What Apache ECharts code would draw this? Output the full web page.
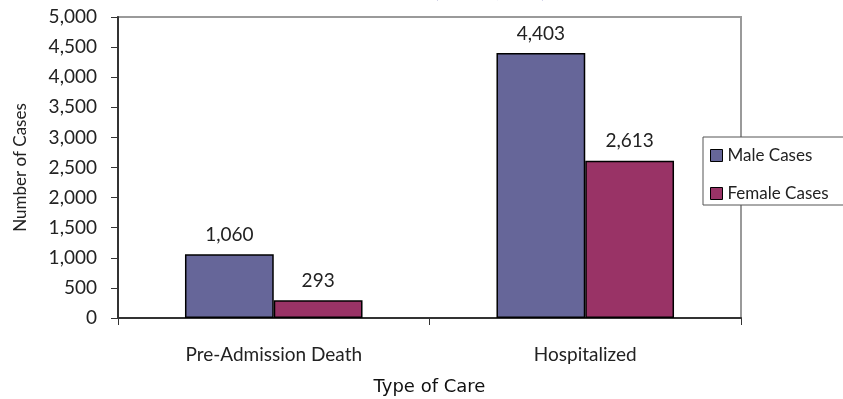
<!DOCTYPE html>
<html>
<head>
<meta charset="utf-8">
<style>
  html, body { margin: 0; padding: 0; background: #fff; overflow: hidden; }
  #chart { width: 843px; height: 399px; }
</style>
<script src="https://cdn.jsdelivr.net/npm/echarts@6/dist/echarts.min.js"></script>
</head>
<body>
<div id="chart"></div>
<script>
// Cases by type of care, split by sex
const categories = ['Pre-Admission Death', 'Hospitalized'];
const maleCases = [1060, 4403];
const femaleCases = [293, 2613];
const yTicks = [0, 500, 1000, 1500, 2000, 2500, 3000, 3500, 4000, 4500, 5000];

const FONT = 'Lato, "Open Sans", sans-serif';
const fmt = v => v.toLocaleString('en-US');

const chart = echarts.init(document.getElementById('chart'), null, { renderer: 'canvas' });

const barLabel = {
  show: true,
  position: 'top',
  distance: 10,
  color: '#222',
  fontSize: 19,
  fontFamily: FONT,
  formatter: p => fmt(p.value)
};

chart.setOption({
  animation: false,
  title: {
    text: '(N = 8,369)',
    left: 428,
    top: -27,
    textStyle: { color: '#3b3b9a', fontSize: 23, fontWeight: 'normal', fontFamily: FONT }
  },
  grid: {
    left: 118, right: 102, top: 17, bottom: 81,
    containLabel: false,
    outerBoundsMode: 'none',
    show: true, borderColor: '#9a9a9a', borderWidth: 2, backgroundColor: 'transparent'
  },
  legend: {
    orient: 'vertical',
    left: 703, top: 137,
    padding: [10, 30, 3, 7],
    itemGap: 21,
    itemWidth: 12, itemHeight: 12,
    backgroundColor: '#fff',
    borderColor: '#555',
    borderWidth: 1,
    borderRadius: 0,
    icon: 'rect',
    textStyle: { color: '#222', fontSize: 17, fontFamily: FONT, padding: [0, 0, 0, 0] },
    data: [
      { name: 'Male Cases', itemStyle: { borderColor: '#000', borderWidth: 1 } },
      { name: 'Female Cases', itemStyle: { borderColor: '#000', borderWidth: 1 } }
    ]
  },
  xAxis: {
    type: 'category',
    data: categories,
    boundaryGap: true,
    axisLine: { lineStyle: { color: '#333', width: 2 } },
    axisTick: { show: true, length: 7, lineStyle: { color: '#333', width: 1 } },
    axisLabel: { color: '#222', fontSize: 19, fontFamily: FONT, margin: 27 },
    name: 'Type of Care',
    nameLocation: 'middle',
    nameGap: 60,
    nameTextStyle: { color: '#111', fontSize: 18, fontFamily: '"DejaVu Sans", sans-serif' }
  },
  yAxis: {
    type: 'value',
    min: yTicks[0],
    max: yTicks[yTicks.length - 1],
    interval: 500,
    axisLine: { show: true, lineStyle: { color: '#333', width: 2 } },
    axisTick: { show: true, length: 7, lineStyle: { color: '#333', width: 1 } },
    splitLine: { show: false },
    axisLabel: { color: '#222', fontSize: 19, fontFamily: FONT, margin: 21, formatter: v => fmt(v) },
    name: 'Number of Cases',
    nameLocation: 'middle',
    nameGap: 89,
    nameTextStyle: { color: '#222', fontSize: 17, fontFamily: FONT }
  },
  series: [
    {
      name: 'Male Cases',
      type: 'bar',
      data: maleCases,
      barGap: '0%',
      barCategoryGap: '43%',
      itemStyle: { color: '#666699', borderColor: '#000', borderWidth: 1.5 },
      label: barLabel
    },
    {
      name: 'Female Cases',
      type: 'bar',
      data: femaleCases,
      itemStyle: { color: '#993366', borderColor: '#000', borderWidth: 1.5 },
      label: barLabel
    }
  ]
});
</script>
</body>
</html>
